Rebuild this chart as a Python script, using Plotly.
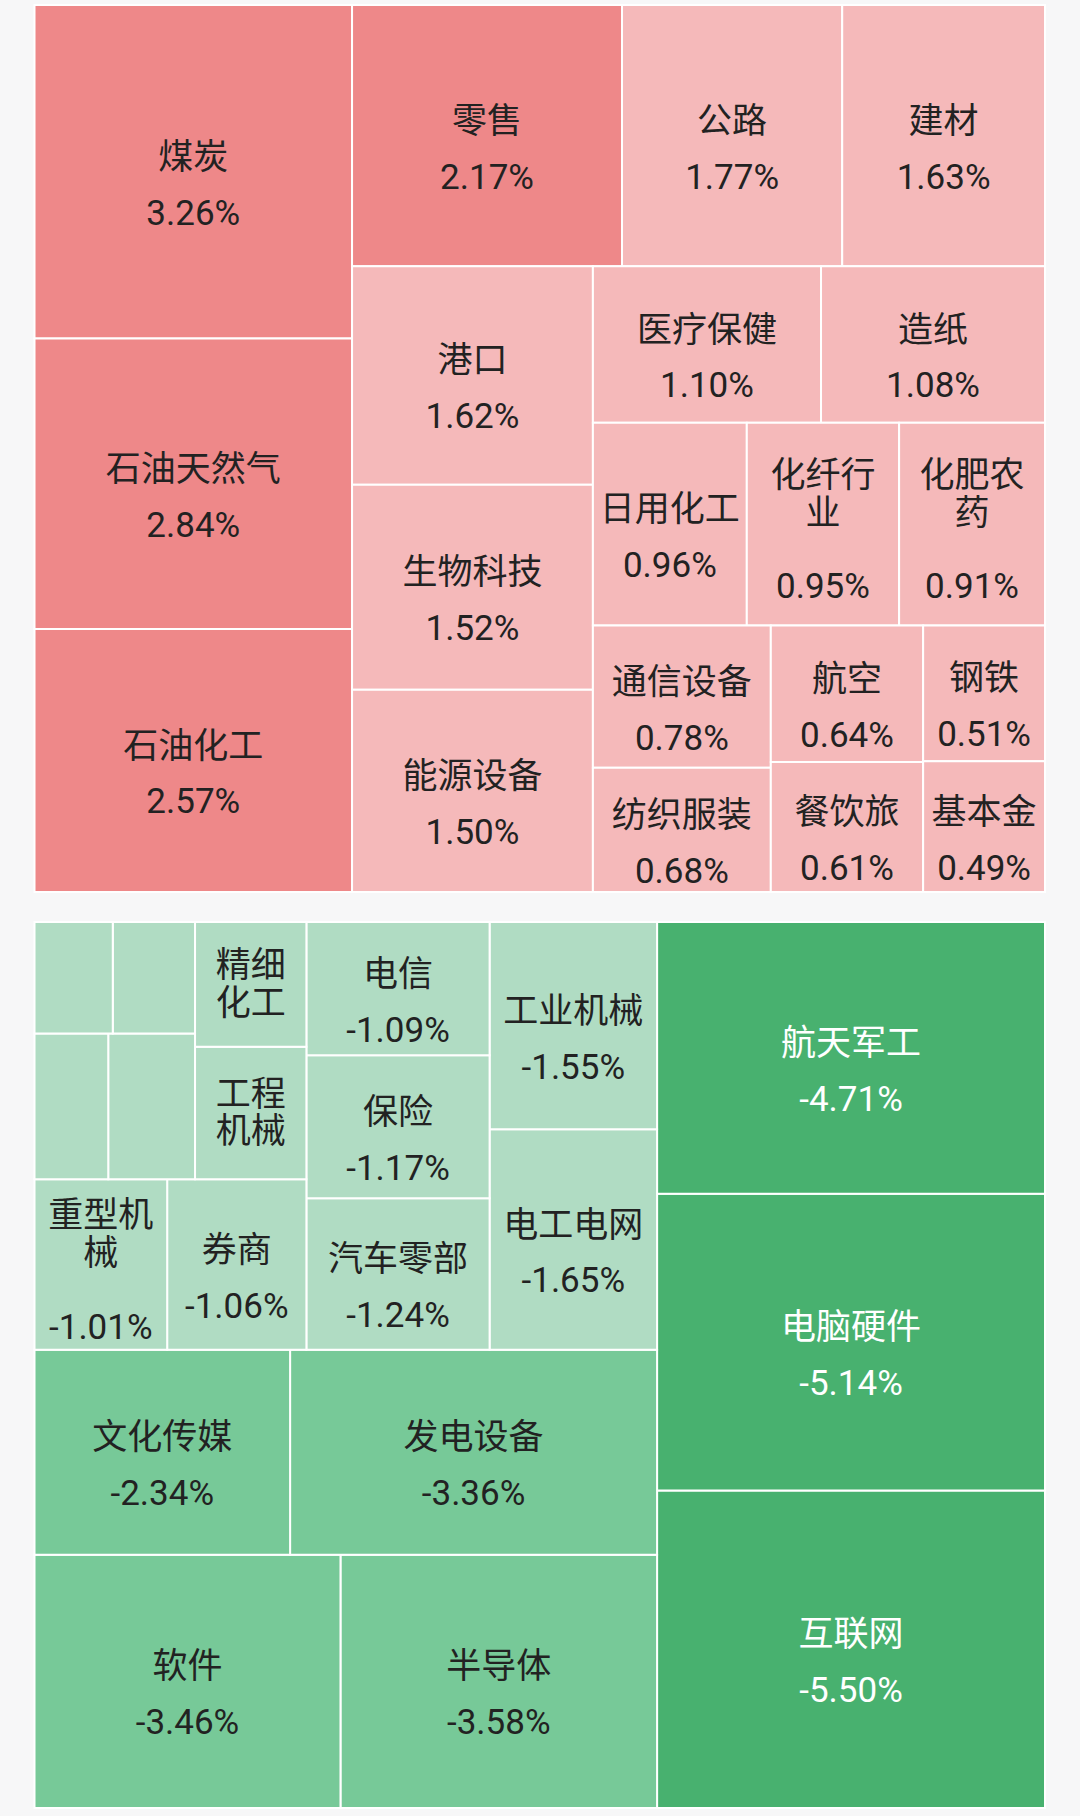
import plotly.graph_objects as go

# ---------------- data ----------------
red_names = ["煤炭", "石油天然气", "石油化工", "零售", "公路", "建材", "港口", "生物科技",
             "能源设备", "医疗保健", "造纸", "日用化工", "化纤行业", "化肥农药", "通信设备",
             "纺织服装", "航空", "餐饮旅", "钢铁", "基本金"]
red_pct = [3.26, 2.84, 2.57, 2.17, 1.77, 1.63, 1.62, 1.52, 1.50, 1.10, 1.08, 0.96, 0.95,
           0.91, 0.78, 0.68, 0.64, 0.61, 0.51, 0.49]

green_names = ["互联网", "电脑硬件", "航天军工", "半导体", "软件", "发电设备", "文化传媒",
               "电工电网", "工业机械", "汽车零部", "保险", "电信", "券商", "重型机械",
               "工程机械", "精细化工", "未标注1", "未标注2", "未标注3", "未标注4"]
green_pct = [-5.50, -5.14, -4.71, -3.58, -3.46, -3.36, -2.34, -1.65, -1.55, -1.24, -1.17,
             -1.09, -1.06, -1.01, None, None, None, None, None, None]
# tile sizes (|change|; estimated from the picture where no number is printed)
green_sizes = [5.50, 5.14, 4.71, 3.58, 3.46, 3.36, 2.34, 1.65, 1.55, 1.24, 1.17, 1.09,
               1.06, 1.01, 0.66, 0.62, 0.565, 0.48, 0.41, 0.39]
hidden_labels = ["未标注1", "未标注2", "未标注3", "未标注4"]

# how names are wrapped inside narrow tiles
wrapped = {"化纤行业": ["化纤行", "业"], "化肥农药": ["化肥农", "药"],
           "重型机械": ["重型机", "械"], "工程机械": ["工程", "机械"],
           "精细化工": ["精细", "化工"]}

# ---------------- styles ----------------
FONT = "Roboto, Noto Sans CJK SC, sans-serif"
GLYPH = 35
RED_DARK, RED_LIGHT = "#EE8889", "#F5B9BA"
G_DARK, G_MID, G_LIGHT = "#48B16F", "#77C998", "#B0DCC3"


def span(t, size=GLYPH):
    return f"<span style='font-size:{size}px'>{t}</span>"


def cell_text(name, pct, show_name=True):
    if not show_name:
        return ""
    lines = wrapped.get(name, [name])
    first = span(lines[0])
    if pct is not None:
        # invisible tall spacers push the text block slightly down
        pad = span("\u00a0", 64 if len(lines) == 1 else 50)
        first = pad + first + pad
    parts = [first] + [f"<sup>{span(l)}</sup>" for l in lines[1:]]
    if pct is not None:
        parts.append(span(f"{pct:.2f}%"))
    return "<br>".join(parts)


red_text = [cell_text(n, p) for n, p in zip(red_names, red_pct)]
red_colors = [RED_DARK if p >= 2 else RED_LIGHT for p in red_pct]
red_font_colors = ["#222222"] * len(red_names)

green_text = [cell_text(n, p, n not in hidden_labels) for n, p in zip(green_names, green_pct)]
green_colors = []
green_font_colors = []
for p in green_pct:
    if p is not None and p <= -4:
        green_colors.append(G_DARK)
        green_font_colors.append("#FFFFFF")
    elif p is not None and p <= -2:
        green_colors.append(G_MID)
        green_font_colors.append("#222222")
    else:
        green_colors.append(G_LIGHT)
        green_font_colors.append("#222222")

W, H = 1080, 1816
x_dom = [34.5 / W, 1045 / W]
red_dom_y = [1 - 892 / H, 1 - 5 / H]
green_dom_y = [1 - 1808 / H, 1 - 922 / H]

fig = go.Figure()
fig.add_trace(go.Treemap(
    ids=red_names, labels=red_names, parents=[""] * len(red_names), values=red_pct,
    text=red_text, texttemplate="%{text}", textposition="middle center",
    textfont=dict(family=FONT, size=43, color=red_font_colors),
    marker=dict(colors=red_colors, line=dict(color="#FFFFFF", width=2),
                pad=dict(t=0, l=0, r=0, b=0)),
    tiling=dict(packing="squarify", squarifyratio=1, pad=0),
    pathbar=dict(visible=False), sort=True,
    hoverinfo="skip", domain=dict(x=x_dom, y=red_dom_y),
))
fig.add_trace(go.Treemap(
    ids=green_names, labels=green_names, parents=[""] * len(green_names), values=green_sizes,
    text=green_text, texttemplate="%{text}", textposition="middle center",
    textfont=dict(family=FONT, size=43, color=green_font_colors),
    marker=dict(colors=green_colors, line=dict(color="#FFFFFF", width=2),
                pad=dict(t=0, l=0, r=0, b=0)),
    tiling=dict(packing="squarify", squarifyratio=1, pad=0, flip="x+y"),
    pathbar=dict(visible=False), sort=True,
    hoverinfo="skip", domain=dict(x=x_dom, y=green_dom_y),
))
fig.update_layout(
    width=W, height=H, margin=dict(l=0, r=0, t=0, b=0),
    paper_bgcolor="#F7F7F8", plot_bgcolor="#F7F7F8",
    uniformtext=dict(minsize=43, mode="show"),
    showlegend=False,
)
fig.write_html("out.html")
